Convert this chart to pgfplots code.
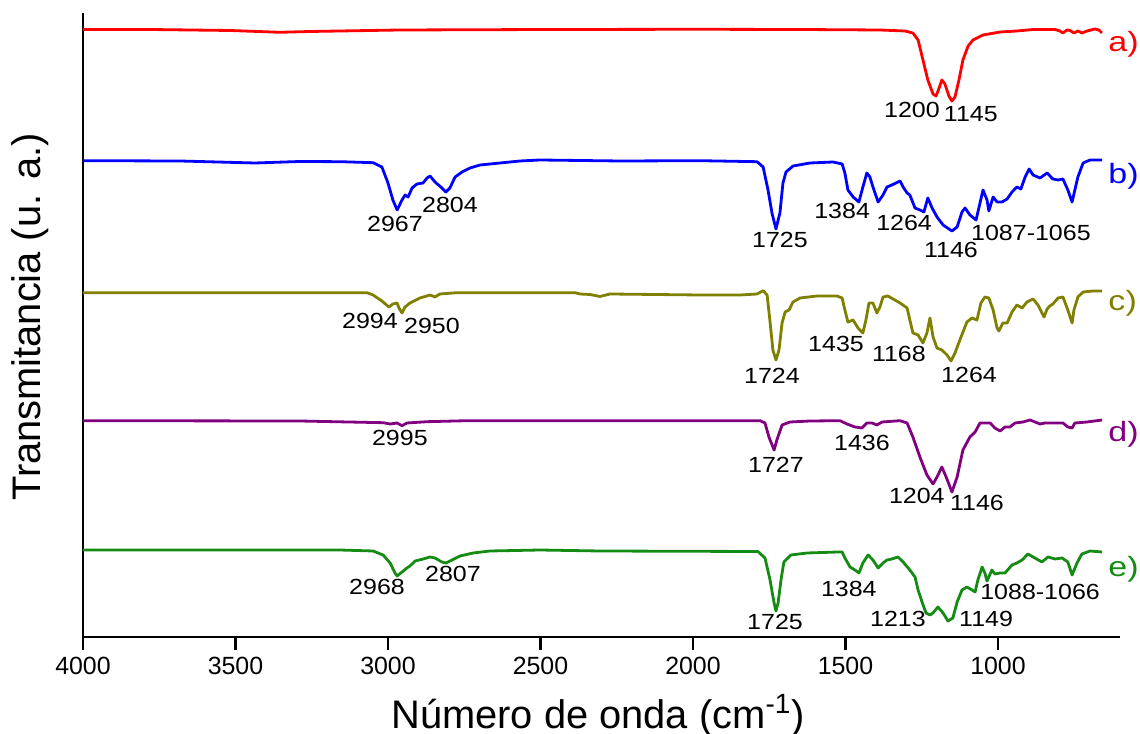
\documentclass[border=0pt]{standalone}
\usepackage{fontspec}
\setmainfont{Liberation Sans}
\usepackage{pgfplots}
\pgfplotsset{compat=1.18}
\definecolor{cA}{RGB}{255,0,0}
\definecolor{cB}{RGB}{0,0,255}
\definecolor{cC}{RGB}{128,128,0}
\definecolor{cD}{RGB}{128,0,128}
\definecolor{cE}{RGB}{20,140,20}
\newcommand{\pk}[1]{\scalebox{1.14}[1]{#1}}
\newcommand{\sr}[1]{\scalebox{1.22}[1]{#1}}
\tikzset{
  peak/.style={font=\fontsize{11}{12}\selectfont, inner sep=0pt},
  ser/.style={font=\fontsize{14}{16}\selectfont, inner sep=0pt, anchor=west},
}
\begin{document}
\begin{tikzpicture}
\path[use as bounding box] (-41.5bp,-48.5bp) rectangle (528.5bp,318.5bp);
\begin{axis}[
  at={(0,0)}, anchor=south west,
  scale only axis, width=518.5bp, height=312bp,
  x dir=reverse, xmin=600, xmax=4000, ymin=0, ymax=624,
  enlargelimits=false,
  axis x line*=bottom, axis y line*=left,
  every outer x axis line/.append style={-},
  every outer y axis line/.append style={-},
  every inner x axis line/.append style={-},
  every inner y axis line/.append style={-},
  axis line style={line width=1.2bp},
  xtick={1000,1500,2000,2500,3000,3500,4000},
  ytick=\empty,
  tick align=outside,
  major tick length=6.5bp,
  every tick/.style={black, line width=1.2bp},
  xticklabel style={font=\fontsize{12.5}{14}\selectfont},
  /pgf/number format/assume math mode=true,
  /pgf/number format/1000 sep={},
  clip=false,
  every axis plot/.append style={line width=1.4bp, line join=round},
]
% a)
\addplot[cA] coordinates {
(4000,607.5)(3780,607.5)(3518,606.5)(3354,604.7)(3256,605.5)(2961,607)(2469,607.5)(1977,607.7)(1649,607.5)(1387,607)(1305,606)(1279,604)(1262,597)(1246,577)(1230,557)(1213,543)(1203,541)(1193,549)(1184,557)(1174,553)(1161,541)(1151,536)(1141,540)(1128,557)(1115,577)(1098,591)(1082,597)(1049,602)(993,605)(938,606)(885,607.5)(813,607.5)(797,606)(787,604)(774,607)(764,606.5)(751,604)(738,606)(725,604)(708,606)(682,608)(669,607)(659,604)
};
% b)
\addplot[cB] coordinates {
(4000,476.3)(3682,476)(3436,474)(3289,475.5)(3157,475.3)(3049,474.3)(3020,470)(3000,454)(2984,437)(2970,427)(2954,437)(2944,442)(2934,440)(2921,449)(2905,453)(2885,454)(2872,459)(2862,461)(2846,455)(2823,449)(2810,445)(2797,449)(2780,460)(2757,465)(2731,469)(2698,472)(2633,474)(2567,476)(2502,477)(2239,476)(1977,476.3)(1790,475.3)(1770,470)(1754,447)(1741,424)(1728,408)(1715,424)(1705,454)(1695,465)(1672,471)(1616,474)(1541,475)(1511,473)(1502,464)(1492,447)(1475,440)(1456,435)(1443,450)(1430,464)(1420,460)(1410,450)(1393,435)(1377,442)(1364,450)(1348,452)(1321,456)(1311,450)(1298,444)(1289,442)(1272,429)(1256,427)(1243,425)(1230,439)(1216,429)(1200,420)(1180,412)(1151,406)(1134,410)(1118,425)(1108,429)(1092,422)(1072,417)(1059,434)(1049,447)(1036,437)(1030,426)(1016,440)(1003,435)(987,435)(970,438)(954,445)(938,450)(925,448)(911,460)(898,468)(885,462)(862,459)(839,464)(820,458)(803,457)(787,458)(771,447)(757,435)(748,447)(738,460)(721,474)(698,477)(659,477)
};
% c)
\addplot[cC] coordinates {
(4000,344.3)(3616,344.3)(3157,344.3)(3069,344.3)(3049,342)(3020,336)(2997,330)(2984,333)(2970,334)(2964,329)(2954,324)(2944,330)(2928,334)(2895,339)(2862,342)(2846,340)(2830,343)(2774,344.3)(2502,344.3)(2387,344.3)(2370,343)(2338,342.5)(2305,340.5)(2272,343)(1977,342)(1846,342)(1790,343)(1770,346.3)(1757,342)(1748,317)(1738,287)(1728,277)(1718,287)(1708,314)(1698,325)(1685,327)(1672,335)(1649,339)(1593,341)(1528,341)(1511,339)(1502,327)(1492,315)(1475,317)(1459,309)(1443,304)(1433,317)(1423,334)(1410,334)(1397,324)(1387,330)(1377,340)(1361,341)(1344,338)(1321,334)(1298,329)(1289,317)(1279,304)(1262,302)(1246,294)(1233,304)(1223,319)(1213,300)(1200,289)(1184,287)(1167,282)(1154,276)(1141,284)(1125,297)(1102,315)(1085,319)(1069,317)(1056,334)(1043,340)(1030,339)(1016,327)(1003,309)(997,306)(984,314)(970,314)(954,325)(938,332)(921,329)(905,335)(885,338)(869,332)(849,320)(839,328)(830,331)(820,333)(803,339)(787,340)(771,327)(757,314)(751,327)(738,340)(721,345)(689,346)(659,346)
};
% d)
\addplot[cD] coordinates {
(4000,216.3)(3289,216)(3016,214.3)(2993,213)(2970,214)(2954,211.3)(2938,214)(2872,215.3)(2741,216.3)(2305,216.3)(1780,216.3)(1764,214)(1751,200)(1734,187)(1725,197)(1708,212)(1682,215)(1616,216)(1518,216.3)(1495,213)(1469,210)(1446,209)(1430,214)(1413,214)(1397,212)(1380,215)(1321,216.3)(1298,214)(1279,200)(1256,180)(1233,162)(1213,153)(1200,160)(1184,170)(1170,160)(1151,145)(1134,160)(1115,187)(1092,200)(1075,205)(1059,214)(1026,214)(1010,209)(993,206)(977,210)(961,210)(944,214)(918,215)(895,217)(862,213)(846,214)(820,214)(787,214)(771,210)(757,209)(748,214)(708,215)(659,217)
};
% e)
\addplot[cE] coordinates {
(4000,87)(3616,87)(3157,87)(3049,86)(3016,82)(2993,74)(2977,64)(2970,61)(2954,65)(2938,69)(2928,71)(2911,76)(2885,78)(2862,80)(2846,79)(2823,75)(2810,74)(2790,77)(2764,81)(2721,84)(2666,86)(2502,87)(2305,86)(1787,85.5)(1764,79)(1748,58)(1734,34)(1728,26)(1721,34)(1711,58)(1702,75)(1679,82)(1626,84)(1525,85)(1511,85)(1502,79)(1485,70)(1469,67)(1456,64)(1443,74)(1426,82)(1410,77)(1393,69)(1377,74)(1364,77)(1348,78)(1328,80)(1311,75)(1289,67)(1272,60)(1262,47)(1249,35)(1236,24)(1223,22)(1213,24)(1197,30)(1180,24)(1164,16)(1148,19)(1134,35)(1118,47)(1102,50)(1085,47)(1075,45)(1066,57)(1052,70)(1043,64)(1036,56)(1020,67)(1010,63)(993,64)(977,64)(954,72)(938,74)(921,77)(902,83)(879,79)(856,75)(836,80)(813,78)(790,79)(771,75)(757,62)(741,74)(725,83)(698,86)(659,85)
};
% peak labels
\node[peak] at (axis cs:1282,527) {\pk{1200}};
\node[peak] at (axis cs:1089,523) {\pk{1145}};
\node[peak] at (axis cs:2977,413) {\pk{2967}};
\node[peak] at (axis cs:2797,432) {\pk{2804}};
\node[peak] at (axis cs:1715,397) {\pk{1725}};
\node[peak] at (axis cs:1511,426) {\pk{1384}};
\node[peak] at (axis cs:1308,414) {\pk{1264}};
\node[peak] at (axis cs:1154,387) {\pk{1146}};
\node[peak] at (axis cs:892,404) {\pk{1087-1065}};
\node[peak] at (axis cs:3059,316) {\pk{2994}};
\node[peak] at (axis cs:2856,311) {\pk{2950}};
\node[peak] at (axis cs:1741,261) {\pk{1724}};
\node[peak] at (axis cs:1531,293) {\pk{1435}};
\node[peak] at (axis cs:1325,283) {\pk{1168}};
\node[peak] at (axis cs:1095,262) {\pk{1264}};
\node[peak] at (axis cs:2961,199) {\pk{2995}};
\node[peak] at (axis cs:1728,172) {\pk{1727}};
\node[peak] at (axis cs:1446,194) {\pk{1436}};
\node[peak] at (axis cs:1266,141) {\pk{1204}};
\node[peak] at (axis cs:1069,134) {\pk{1146}};
\node[peak] at (axis cs:3036,50) {\pk{2968}};
\node[peak] at (axis cs:2787,63) {\pk{2807}};
\node[peak] at (axis cs:1731,15) {\pk{1725}};
\node[peak] at (axis cs:1489,48) {\pk{1384}};
\node[peak] at (axis cs:1328,18) {\pk{1213}};
\node[peak] at (axis cs:1039,18) {\pk{1149}};
\node[peak] at (axis cs:862,45) {\pk{1088-1066}};
% series labels
\node[ser, text=cA] at (axis cs:639,593) {\sr{a)}};
\node[ser, text=cB] at (axis cs:639,461) {\sr{b)}};
\node[ser, text=cC] at (axis cs:639,334) {\sr{c)}};
\node[ser, text=cD] at (axis cs:639,203) {\sr{d)}};
\node[ser, text=cE] at (axis cs:639,68) {\sr{e)}};
\end{axis}
\node[rotate=90, font=\fontsize{20}{24}\selectfont] at (-26.5bp,160bp) {Transmitancia (u. a.)};
\node[anchor=base, font=\fontsize{20}{24}\selectfont] at (257.5bp,-45.5bp) {Número de onda (cm\textsuperscript{-1})};
\end{tikzpicture}
\end{document}
